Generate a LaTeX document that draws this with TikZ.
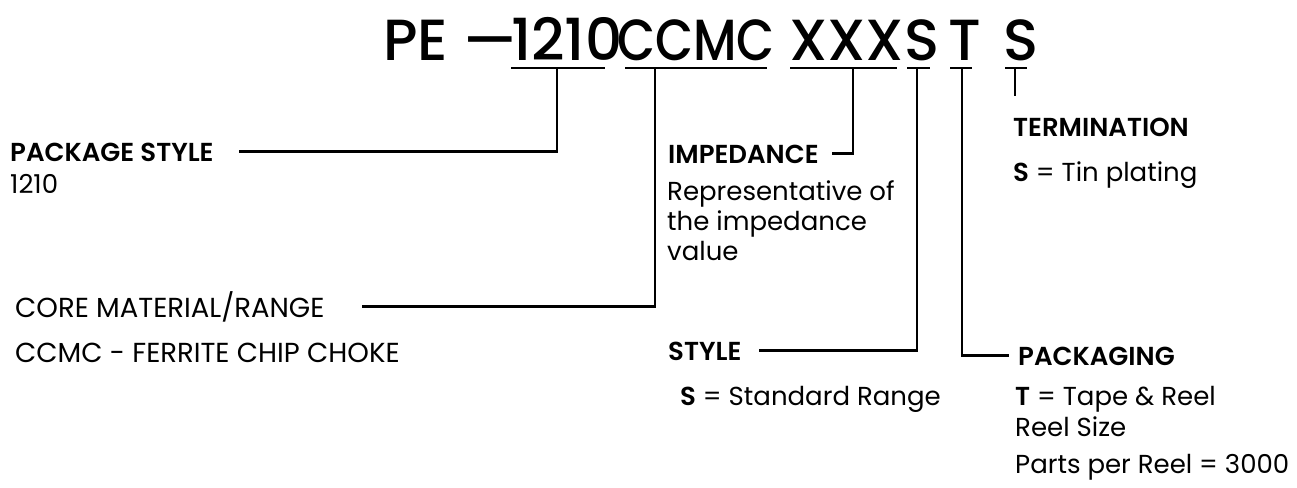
\documentclass[tikz,border=0pt]{standalone}
\usepackage{fontspec}
\setmainfont{Poppins}[BoldFont=* SemiBold]
\newfontfamily\codefont{Poppins}[UprightFont=* Medium]
\tikzset{
  codepart/.style={anchor=base west, inner sep=0pt, font=\fontsize{58}{66}\codefont},
  heading/.style={anchor=base west, inner sep=0pt, font=\fontsize{26}{30}\selectfont\bfseries},
  body/.style={anchor=base west, inner sep=0pt, font=\fontsize{26}{30}\selectfont},
  bodycaps/.style={body, font=\fontsize{27.5}{32}\selectfont},
  lead/.style={line width=2.8pt}
}
\begin{document}
\begin{tikzpicture}[x=1pt,y=-1pt]
    \useasboundingbox (0,0) rectangle (1297,487);
    % part number
    \node[codepart] (pe)   at (383,60) {PE —};
    \node[codepart] (size) at (511,60) {1210};
    \node[codepart] (core) at (617,60) {\scalebox{0.85}[1]{CCMC}};
    \node[codepart] (imp)  at (789,60) {XXX};
    \node[codepart] (sty)  at (904,60) {S};
    \node[codepart] (pkg)  at (948,60) {T};
    \node[codepart] (term) at (1003,60) {S};
    \draw[lead] (511,68) -- (605,68);
    \draw[lead] (625,68) -- (767,68);
    \draw[lead] (790,68) -- (897,68);
    \draw[lead] (907,68) -- (930,68);
    \draw[lead] (950,68) -- (972,68);
    \draw[lead] (1005,68) -- (1027,68);
    \coordinate (sizetick) at (557,68);
    \coordinate (coretick) at (655,68);
    \coordinate (imptick)  at (853,68);
    \coordinate (stytick)  at (917,68);
    \coordinate (pkgtick)  at (962,68);
    \coordinate (termtick) at (1015,68);
    \coordinate (termend)  at (1015,96);
    % labels
    \node[heading] (sizehead) at (10,161) {PACKAGE STYLE};
    \node[body]    (sizetext) at (10,193) {1210};
    \node[bodycaps] (corehead) at (15,317) {CORE MATERIAL/RANGE};
    \node[bodycaps] (coretext) at (15,362) {CCMC - FERRITE CHIP CHOKE};
    \node[heading] (imphead) at (668,163) {IMPEDANCE};
    \node[body] (imptext1) at (667,200) {Representative of};
    \node[body] (imptext2) at (667,230) {the impedance};
    \node[body] (imptext3) at (667,260) {value};
    \node[heading] (termhead) at (1013,136) {TERMINATION};
    \node[body] (termtext) at (1013,181) {\textbf{S} = Tin plating};
    \node[heading] (styhead) at (668,360) {STYLE};
    \node[body] (stytext) at (680,405) {\textbf{S} = Standard Range};
    \node[heading] (pkghead) at (1018,365) {PACKAGING};
    \node[body] (pkgtext1) at (1015,405) {\textbf{T} = Tape \& Reel};
    \node[body] (pkgtext2) at (1015,436) {Reel Size};
    \node[body] (pkgtext3) at (1015,473) {Parts per Reel = 3000};
    % leaders
    \draw[lead] (sizetick) |- ([xshift=25pt]sizehead.east);
    \draw[lead] (coretick) |- ([xshift=37pt]corehead.east);
    \draw[lead] (imptick) |- ([xshift=13pt]imphead.east);
    \draw[lead] (stytick) |- ([xshift=17pt]styhead.east);
    \draw[lead] (pkgtick) |- ([xshift=-9pt]pkghead.west);
    \draw[lead] (termtick) -- (termend);
\end{tikzpicture}
\end{document}
